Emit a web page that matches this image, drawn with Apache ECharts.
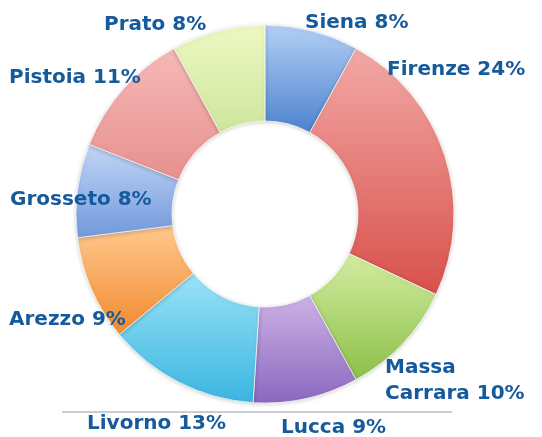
<!DOCTYPE html>
<html>
<head>
<meta charset="utf-8">
<script src="https://cdn.jsdelivr.net/npm/echarts@6/dist/echarts.min.js"></script>
<style>
  html, body { margin: 0; padding: 0; background: #fff; }
  #chart { width: 542px; height: 437px; }
</style>
</head>
<body>
<div id="chart"></div>
<script>
// province shares (%), clockwise from 12 o'clock
const provinces = ['Siena', 'Firenze', 'Massa Carrara', 'Lucca', 'Livorno', 'Arezzo', 'Grosseto', 'Pistoia', 'Prato'];
const shares = [8, 24, 10, 9, 13, 9, 8, 11, 8];

// slice gradients: light (top) -> dark (bottom)
const sliceColors = [
  ['#b3d0f5', '#4d82cf'],
  ['#f3a9a6', '#d8504b'],
  ['#d4eca0', '#8cc04a'],
  ['#cdb2e6', '#8a68bf'],
  ['#9be3f8', '#3ab5df'],
  ['#ffc98f', '#f18a2e'],
  ['#c3d6f6', '#7199dc'],
  ['#f7b9b8', '#e6908e'],
  ['#eef8c2', '#cde69c']
];

// label anchor (left edge, vertical middle)
const labelX = [305, 387, 385, 281, 87, 9, 10, 9, 104];
const labelY = [23, 70, 381, 428, 424, 320, 200, 78, 25];

const chart = echarts.init(document.getElementById('chart'));

const option = {
  animation: false,
  graphic: [{
    type: 'line',
    shape: { x1: 62, y1: 412, x2: 452, y2: 412 },
    style: { stroke: '#b8bcc4', lineWidth: 1.5 },
    z: 0
  }],
  series: [{
    type: 'pie',
    center: [265, 214],
    radius: [93, 189],
    startAngle: 90,
    clockwise: true,
    data: provinces.map((name, i) => ({
      name: name,
      value: shares[i],
      itemStyle: {
        color: new echarts.graphic.LinearGradient(0, 0, 0, 1, [
          { offset: 0, color: sliceColors[i][0] },
          { offset: 1, color: sliceColors[i][1] }
        ])
      }
    })),
    itemStyle: {
      borderColor: 'rgba(255,255,255,0.7)',
      borderWidth: 1,
      shadowColor: 'rgba(0,0,0,0.18)',
      shadowBlur: 4,
      shadowOffsetY: 1
    },
    label: {
      show: true,
      position: 'outside',
      alignTo: 'none',
      overflow: 'none',
      formatter: p => p.name.replace(' ', '\n') + ' ' + p.value + '%',
      fontFamily: 'DejaVu Sans',
      fontWeight: 'bold',
      fontSize: 20,
      lineHeight: 26,
      color: '#155a9c'
    },
    labelLine: { show: false },
    labelLayout: p => ({
      x: labelX[p.dataIndex],
      y: labelY[p.dataIndex],
      align: 'left',
      verticalAlign: 'middle'
    }),
    emphasis: { disabled: true }
  }]
};

chart.setOption(option);
</script>
</body>
</html>
